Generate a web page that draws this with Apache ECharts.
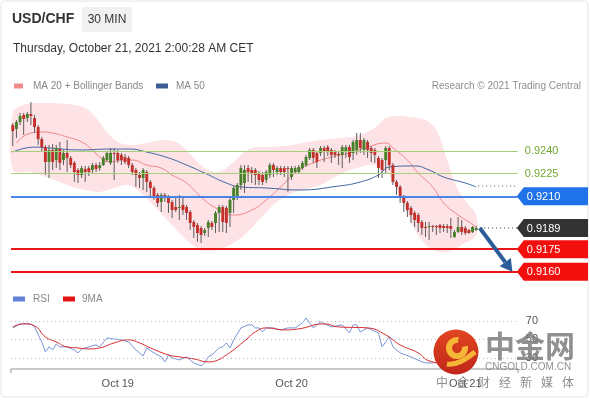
<!DOCTYPE html>
<html><head><meta charset="utf-8">
<script src="https://cdn.jsdelivr.net/npm/echarts/dist/echarts.min.js"></script>
<style>html,body{margin:0;padding:0;background:#fff}#c{width:590px;height:400px}</style>
</head><body><div id="c"></div>
<script>
// ---------- texts ----------
const symbolName = 'USD/CHF';
const timeframe = '30 MIN';
const stamp = 'Thursday, October 21, 2021 2:00:28 AM CET';
const credit = 'Research \u00a9 2021 Trading Central';
const dayLabels = ['Oct 19', 'Oct 20', 'Oct 21'];
const dayIndex = [29, 77, 125];
const SLOTS = 140;

// ---------- candles (30 min) ----------
const opens = [0.92572,0.92546,0.92592,0.92638,0.92618,0.92645,0.92618,0.92559,0.92479,0.92426,
0.92327,0.92407,0.92340,0.92413,0.92340,0.92387,0.92354,0.92321,0.92274,0.92241,
0.92281,0.92287,0.92274,0.92307,0.92287,0.92307,0.92340,0.92321,0.92387,0.92387,
0.92374,0.92360,0.92354,0.92307,0.92274,0.92241,0.92221,0.92261,0.92195,0.92155,
0.92109,0.92062,0.92109,0.92095,0.92062,0.92029,0.92023,0.92043,0.92029,0.91996,
0.91930,0.91910,0.91890,0.91857,0.91890,0.91923,0.91923,0.91990,0.92029,0.92023,
0.91990,0.92076,0.92095,0.92175,0.92188,0.92287,0.92274,0.92274,0.92254,0.92241,
0.92208,0.92241,0.92307,0.92261,0.92287,0.92287,0.92287,0.92228,0.92261,0.92261,
0.92287,0.92307,0.92354,0.92407,0.92387,0.92387,0.92420,0.92426,0.92407,0.92393,
0.92380,0.92374,0.92393,0.92426,0.92387,0.92407,0.92473,0.92407,0.92460,0.92420,
0.92407,0.92354,0.92340,0.92340,0.92420,0.92307,0.92195,0.92162,0.92095,0.92056,
0.92023,0.91990,0.91976,0.91930,0.91897,0.91897,0.91903,0.91903,0.91910,0.91903,
0.91903,0.91903,0.91831,0.91864,0.91897,0.91890,0.91877,0.91864,0.91877];
const closes = [0.92532,0.92592,0.92632,0.92612,0.92645,0.92632,0.92559,0.92479,0.92426,0.92327,
0.92407,0.92327,0.92420,0.92321,0.92387,0.92354,0.92307,0.92261,0.92241,0.92287,
0.92261,0.92261,0.92307,0.92281,0.92307,0.92354,0.92387,0.92387,0.92380,0.92340,
0.92340,0.92327,0.92307,0.92261,0.92241,0.92221,0.92274,0.92195,0.92155,0.92095,
0.92056,0.92109,0.92089,0.92056,0.92009,0.92009,0.92029,0.92009,0.91990,0.91923,
0.91897,0.91857,0.91844,0.91877,0.91930,0.91897,0.91990,0.92029,0.91930,0.91923,
0.92076,0.92155,0.92175,0.92287,0.92274,0.92261,0.92254,0.92241,0.92208,0.92195,
0.92261,0.92307,0.92274,0.92287,0.92261,0.92261,0.92281,0.92287,0.92287,0.92294,
0.92321,0.92360,0.92407,0.92354,0.92327,0.92420,0.92393,0.92393,0.92374,0.92374,
0.92374,0.92426,0.92426,0.92360,0.92460,0.92473,0.92420,0.92473,0.92407,0.92387,
0.92374,0.92287,0.92274,0.92420,0.92307,0.92195,0.92162,0.92095,0.92056,0.92009,
0.91976,0.91943,0.91923,0.91890,0.91890,0.91903,0.91897,0.91897,0.91890,0.91890,
0.91890,0.91884,0.91864,0.91897,0.91864,0.91857,0.91857,0.91897,0.91890];
const highs = [0.92585,0.92605,0.92652,0.92652,0.92658,0.92724,0.92638,0.92572,0.92493,0.92440,
0.92440,0.92446,0.92440,0.92460,0.92407,0.92473,0.92367,0.92334,0.92287,0.92301,
0.92301,0.92301,0.92321,0.92321,0.92327,0.92367,0.92400,0.92420,0.92420,0.92407,
0.92387,0.92380,0.92367,0.92321,0.92287,0.92261,0.92287,0.92274,0.92208,0.92168,
0.92122,0.92122,0.92122,0.92109,0.92076,0.92095,0.92109,0.92095,0.92043,0.92009,
0.91943,0.91923,0.91903,0.91890,0.91943,0.91937,0.92003,0.92043,0.92043,0.92036,
0.92089,0.92168,0.92188,0.92307,0.92307,0.92307,0.92294,0.92287,0.92268,0.92261,
0.92274,0.92321,0.92321,0.92301,0.92301,0.92301,0.92301,0.92301,0.92301,0.92307,
0.92334,0.92374,0.92420,0.92420,0.92400,0.92433,0.92433,0.92440,0.92420,0.92407,
0.92400,0.92440,0.92440,0.92440,0.92473,0.92519,0.92519,0.92486,0.92473,0.92433,
0.92420,0.92367,0.92354,0.92433,0.92433,0.92321,0.92208,0.92175,0.92109,0.92069,
0.92036,0.92003,0.91990,0.91943,0.91930,0.91930,0.91910,0.91910,0.91917,0.91917,
0.91917,0.91956,0.91877,0.91963,0.91943,0.91903,0.91884,0.91903,0.91903];
const lows = [0.92433,0.92486,0.92572,0.92506,0.92592,0.92572,0.92519,0.92440,0.92393,0.92241,
0.92221,0.92274,0.92287,0.92274,0.92307,0.92261,0.92287,0.92195,0.92188,0.92221,
0.92195,0.92234,0.92248,0.92261,0.92268,0.92301,0.92327,0.92307,0.92208,0.92321,
0.92307,0.92314,0.92287,0.92241,0.92162,0.92155,0.92142,0.92129,0.92089,0.92076,
0.92029,0.91996,0.92062,0.91990,0.91956,0.91996,0.91943,0.91976,0.91943,0.91877,
0.91824,0.91798,0.91791,0.91837,0.91831,0.91877,0.91857,0.91864,0.91864,0.91857,
0.91897,0.91990,0.92076,0.92142,0.92122,0.92195,0.92188,0.92175,0.92175,0.92175,
0.92188,0.92221,0.92228,0.92241,0.92241,0.92228,0.92129,0.92208,0.92248,0.92254,
0.92274,0.92294,0.92340,0.92321,0.92287,0.92367,0.92327,0.92367,0.92321,0.92354,
0.92307,0.92287,0.92354,0.92321,0.92340,0.92374,0.92387,0.92374,0.92354,0.92327,
0.92321,0.92221,0.92221,0.92254,0.92274,0.92175,0.92109,0.92056,0.91996,0.91963,
0.91923,0.91897,0.91864,0.91844,0.91831,0.91811,0.91864,0.91844,0.91857,0.91864,
0.91857,0.91824,0.91824,0.91857,0.91844,0.91844,0.91851,0.91857,0.91870];

// ---------- indicators (read at sample candles) ----------
const ma20 = [[1,0.92453],[5,0.92519],[8,0.92526],[11,0.92519],[15,0.92493],[19,0.92460],[22,0.92407],[24,0.92360],[27,0.92327],[30,0.92340],[33,0.92340],[37,0.92307],[41,0.92287],[44,0.92241],[48,0.92188],[52,0.92095],[56,0.92023],[61,0.91976],[66,0.92009],[70,0.92076],[74,0.92162],[79,0.92274],[83,0.92321],[88,0.92360],[93,0.92387],[98,0.92426],[103,0.92453],[105,0.92420],[109,0.92340],[112,0.92254],[116,0.92162],[119,0.92056],[123,0.91976],[126,0.91930],[128,0.91897]];
const ma50 = [[0,0.92393],[6,0.92426],[10,0.92420],[19,0.92407],[27,0.92413],[32,0.92413],[37,0.92393],[43,0.92354],[48,0.92307],[53,0.92254],[59,0.92188],[63,0.92162],[70,0.92155],[79,0.92142],[90,0.92168],[96,0.92195],[101,0.92241],[104,0.92294],[111,0.92301],[115,0.92274],[119,0.92228],[125,0.92188],[128,0.92162]];
const bbUpper = [[0,0.92652],[3,0.92705],[8,0.92718],[15,0.92711],[20,0.92685],[23,0.92618],[26,0.92526],[29,0.92460],[33,0.92440],[38,0.92460],[42,0.92473],[45,0.92460],[48,0.92407],[51,0.92327],[54,0.92274],[57,0.92261],[60,0.92307],[63,0.92374],[66,0.92420],[70,0.92426],[75,0.92433],[80,0.92453],[85,0.92473],[90,0.92486],[95,0.92499],[100,0.92552],[103,0.92618],[106,0.92632],[110,0.92625],[114,0.92605],[117,0.92539],[120,0.92340],[123,0.92142],[126,0.92043],[128,0.91976]];
const bbLower = [[0,0.92274],[5,0.92261],[10,0.92221],[15,0.92175],[20,0.92142],[24,0.92129],[28,0.92155],[32,0.92175],[36,0.92109],[40,0.92009],[44,0.91910],[48,0.91811],[52,0.91745],[56,0.91745],[60,0.91778],[64,0.91844],[68,0.91943],[72,0.92043],[76,0.92109],[80,0.92142],[85,0.92175],[90,0.92241],[95,0.92287],[100,0.92307],[104,0.92241],[108,0.92043],[112,0.91844],[116,0.91745],[120,0.91731],[124,0.91778],[128,0.91844]];

// ---------- levels ----------
const levelsGreen = [0.9240, 0.9225];
const levelBlue = 0.9210;
const levelsRed = [0.9175, 0.9160];
const lastPrice = 0.9189;
const ma50Last = 0.92168;
const arrowFrom = [129, 0.9189];
const arrowTo = [138, 0.9160];

// ---------- RSI ----------
const rsi = [[0,62.4],[2,66.8],[5,66.8],[6,63.5],[8,47.3],[9,36.5],[10,41.9],[11,38.6],[12,45.1],[13,41.9],[15,41.9],[17,38.6],[18,35.4],[19,39.7],[21,41.9],[23,44.1],[24,41.9],[26,51.6],[28,50.5],[30,49.5],[32,47.3],[34,38.6],[35,35.4],[36,32.2],[37,40.8],[39,35.4],[41,31.1],[42,25.7],[43,33.2],[44,30.0],[46,27.8],[48,31.1],[49,27.8],[50,24.6],[52,21.4],[53,24.6],[54,31.1],[55,33.2],[57,40.8],[58,41.9],[59,46.2],[60,40.8],[61,49.5],[63,62.4],[65,65.7],[66,65.7],[67,62.4],[68,62.4],[69,58.1],[70,62.4],[72,62.4],[74,60.3],[76,62.4],[78,62.4],[80,67.8],[81,73.2],[83,62.4],[85,68.9],[86,66.8],[88,63.5],[91,65.7],[93,57.0],[94,65.7],[95,65.7],[96,58.1],[98,62.4],[101,57.0],[102,41.9],[104,52.7],[105,41.9],[107,35.4],[110,31.1],[113,25.7],[114,24.6],[116,24.6],[119,25.7],[122,27.8],[125,28.9],[128,32.2]];
const rsiMa = [[0,63.5],[3,66.8],[6,64.6],[9,52.7],[12,47.3],[15,41.9],[18,40.8],[21,39.7],[24,40.8],[28,46.2],[32,49.5],[35,46.2],[38,40.8],[43,33.2],[46,31.1],[50,28.9],[54,25.7],[56,26.8],[59,33.2],[62,41.9],[65,51.6],[67,58.1],[70,62.4],[75,60.3],[79,61.4],[86,66.8],[90,63.5],[98,62.4],[103,54.9],[107,44.1],[112,35.4],[115,26.8],[119,24.6],[124,25.7],[128,27.8]];
const rsiLevels = [70, 50, 30];

const FONT = '"Liberation Sans", Arial, Helvetica, sans-serif';
const CJK = '"Noto Sans CJK SC", sans-serif';
const chart = echarts.init(document.getElementById('c'), null, {renderer: 'canvas'});
const candleData = opens.map((o, i) => [i, o, closes[i], lows[i], highs[i]]);
const cats = Array.from({length: SLOTS}, (_, i) => String(i));

const levelLines = [];
levelsGreen.forEach(v => levelLines.push({yAxis: v, lineStyle: {color: '#a6cf7c', width: 1, type: 'solid'},
  label: {show: true, position: 'end', distance: 7, color: '#70a830', fontSize: 11, fontFamily: FONT, formatter: v.toFixed(4)}}));
levelLines.push({yAxis: levelBlue, lineStyle: {color: '#4a85e6', width: 2, type: 'solid'}, label: {show: false}});
levelsRed.forEach(v => levelLines.push({yAxis: v, lineStyle: {color: '#e8161c', width: 2, type: 'solid'}, label: {show: false}}));

const option = {
  animation: false,
  textStyle: {fontFamily: FONT},
  grid: [
    {left: 11, width: 506.8, top: 98.15, height: 181.2},
    {left: 11, width: 506.8, top: 311.65, height: 57.35}
  ],
  xAxis: [
    {type: 'value', gridIndex: 0, min: -0.5, max: SLOTS - 0.5, show: false},
    {type: 'category', gridIndex: 1, data: cats, boundaryGap: true,
      axisLine: {lineStyle: {color: '#b8b8b8', width: 1.5}},
      axisTick: {show: true, interval: (i) => i === 0, length: 4, lineStyle: {color: '#b8b8b8', width: 1.5}},
      axisLabel: {interval: 0, color: '#555', fontSize: 11, margin: 9, fontFamily: FONT,
        formatter: (v, i) => { const k = dayIndex.indexOf(i); return k >= 0 ? dayLabels[k] : ''; }},
      splitLine: {show: false}},
    {type: 'value', gridIndex: 1, min: -0.5, max: SLOTS - 0.5, show: false}
  ],
  yAxis: [
    {type: 'value', gridIndex: 0, min: 0.9155, max: 0.9275, show: false, splitLine: {show: false}},
    {type: 'value', gridIndex: 1, min: 18, max: 80, show: false, splitLine: {show: false}}
  ],
  series: [
    {type: 'custom', name: 'bb', xAxisIndex: 0, yAxisIndex: 0, z: 1, silent: true, clip: false,
      data: [[0, 0.92]],
      renderItem: (params, api) => {
        const pts = bbUpper.map(p => api.coord(p)).concat(bbLower.slice().reverse().map(p => api.coord(p)));
        return {type: 'polygon', shape: {points: pts, smooth: 0.35}, style: {fill: '#fde3e5'}};
      }},
    {type: 'line', name: 'MA 20', xAxisIndex: 0, yAxisIndex: 0, z: 2, data: ma20, smooth: true, showSymbol: false,
      lineStyle: {color: '#ee8585', width: 1}, silent: true},
    {type: 'line', name: 'MA 50', xAxisIndex: 0, yAxisIndex: 0, z: 2, data: ma50, smooth: true, showSymbol: false,
      lineStyle: {color: '#3f65a3', width: 1}, silent: true,
      markLine: {symbol: ['none', 'none'], silent: true, precision: 5, z: 6, data: levelLines}},
    {type: 'custom', name: 'candles', xAxisIndex: 0, yAxisIndex: 0, z: 5, data: candleData,
      encode: {x: 0, y: [1, 2, 3, 4]},
      renderItem: (params, api) => {
        const x = api.value(0), o = api.value(1), c = api.value(2), l = api.value(3), h = api.value(4);
        const pH = api.coord([x, h]), pL = api.coord([x, l]), pO = api.coord([x, o]), pC = api.coord([x, c]);
        const w = api.size([1, 0])[0] * 0.8;
        const top = Math.min(pO[1], pC[1]);
        const ht = Math.max(Math.abs(pO[1] - pC[1]), 1);
        const col = c > o ? '#478028' : (c < o ? '#c3302c' : '#555');
        return {type: 'group', children: [
          {type: 'line', shape: {x1: pH[0], y1: pH[1], x2: pL[0], y2: pL[1]}, style: {stroke: '#5c5c5c', lineWidth: 1}},
          {type: 'rect', shape: {x: pO[0] - w / 2, y: top, width: w, height: ht}, style: {fill: col}}
        ]};
      }},
    {type: 'line', name: 'RSI', xAxisIndex: 2, yAxisIndex: 1, data: rsi, showSymbol: false, smooth: false,
      lineStyle: {color: '#7794d8', width: 1}, silent: true,
      markLine: {symbol: ['none', 'none'], silent: true, precision: 1,
        lineStyle: {type: [1, 3], color: '#bdbdbd', width: 1},
        label: {position: 'end', distance: 8, color: '#555', fontSize: 11, fontFamily: FONT, formatter: p => String(p.value)},
        data: rsiLevels.map(v => ({yAxis: v}))}},
    {type: 'line', name: '9MA', xAxisIndex: 2, yAxisIndex: 1, data: rsiMa, showSymbol: false, smooth: true,
      lineStyle: {color: '#d8282d', width: 1}, silent: true}
  ]
};
chart.setOption(option);

// ---------- overlays positioned through the chart's scales ----------
const px = (x, y) => chart.convertToPixel({gridIndex: 0}, [x, y]);
const xEdge = px(SLOTS - 0.5, lastPrice)[0];
const G = [];
const txt = (x, y, text, size, color, extra) => Object.assign({type: 'text', x, y, z: 60,
  style: Object.assign({text, fill: color, fontSize: size, fontFamily: FONT, textAlign: 'left', textVerticalAlign: 'middle', align: 'left', verticalAlign: 'middle'}, extra || {})});

// card border
G.push({type: 'rect', shape: {x: 1, y: 1, width: 587, height: 396, r: 4}, style: {fill: 'none', stroke: '#e4e4e4', lineWidth: 1}, z: 0});
// header
G.push(txt(12, 19, symbolName, 14, '#333', {fontWeight: 'bold'}));
G.push({type: 'rect', shape: {x: 82, y: 7, width: 50, height: 25, r: 2}, style: {fill: '#f1f1f1'}, z: 55});
G.push(txt(107, 19.5, timeframe, 12, '#333', {textAlign: 'center', align: 'center'}));
G.push(txt(13, 49, stamp, 12, '#333'));
// price legend
G.push({type: 'rect', shape: {x: 14, y: 83.5, width: 9, height: 5}, style: {fill: '#f08c8c'}, z: 60});
G.push(txt(33, 86, 'MA 20 + Bollinger Bands', 10, '#888'));
G.push({type: 'rect', shape: {x: 156, y: 83.5, width: 12, height: 5}, style: {fill: '#3d5e93'}, z: 60});
G.push(txt(176, 86, 'MA 50', 10, '#888'));
G.push(txt(581, 86, credit, 10, '#8f8f8f', {textAlign: 'right', align: 'right'}));
// RSI legend
G.push({type: 'rect', shape: {x: 13, y: 296.5, width: 12, height: 5}, style: {fill: '#6282d6'}, z: 60});
G.push(txt(33, 299, 'RSI', 10, '#888'));
G.push({type: 'rect', shape: {x: 63, y: 296.5, width: 12, height: 5}, style: {fill: '#e01414'}, z: 60});
G.push(txt(82, 299, '9MA', 10, '#888'));

// dotted extensions
const pLast = px(128, lastPrice);
G.push({type: 'line', shape: {x1: pLast[0] + 4, y1: pLast[1], x2: xEdge, y2: pLast[1]}, style: {stroke: '#333', lineWidth: 1, lineDash: [1, 3]}, z: 40});
const pMa = px(128, ma50Last);
G.push({type: 'line', shape: {x1: pMa[0] + 2, y1: pMa[1], x2: xEdge, y2: pMa[1]}, style: {stroke: '#555', lineWidth: 1, lineDash: [1, 3]}, z: 40});

// price tags
function tag(v, color) {
  const y = px(0, v)[1];
  G.push({type: 'polygon', shape: {points: [[xEdge - 1, y], [xEdge + 6, y - 9], [588, y - 9], [588, y + 9], [xEdge + 6, y + 9]]}, style: {fill: color}, z: 50});
  G.push(txt(xEdge + 9, y + 0.5, v.toFixed(4), 11, '#fff'));
}
tag(levelBlue, '#1f72e8');
tag(lastPrice, '#333333');
levelsRed.forEach(v => tag(v, '#f40f0f'));

// forecast arrow
const a0 = px(arrowFrom[0], arrowFrom[1]), a1 = px(arrowTo[0], arrowTo[1]);
const dx = a1[0] - a0[0], dy = a1[1] - a0[1], len = Math.hypot(dx, dy);
const ux = dx / len, uy = dy / len;
const bx = a1[0] - ux * 12, by = a1[1] - uy * 12;
G.push({type: 'line', shape: {x1: a0[0], y1: a0[1], x2: bx, y2: by}, style: {stroke: '#2c5b99', lineWidth: 4}, z: 45});
G.push({type: 'polygon', shape: {points: [[a1[0], a1[1]], [bx - uy * 7, by + ux * 7], [bx + uy * 7, by - ux * 7]]}, style: {fill: '#2c5b99'}, z: 45});

// watermark
G.push({type: 'circle', shape: {cx: 456, cy: 352, r: 22.5}, style: {fill: new echarts.graphic.LinearGradient(0, 0, 0, 1, [{offset: 0, color: '#e0461f'}, {offset: 1, color: '#c0261a'}])}, z: 80});
G.push({type: 'arc', shape: {cx: 457, cy: 348, r: 8, startAngle: -0.2, endAngle: Math.PI * 1.55}, style: {stroke: '#f6b637', lineWidth: 6, fill: 'none'}, z: 81});
G.push({type: 'bezierCurve', shape: {x1: 447, y1: 364, cpx1: 458, cpy1: 366, x2: 475, y2: 352}, style: {stroke: '#f6b637', lineWidth: 5, fill: 'none'}, z: 81});
G.push(txt(485, 346, '\u4e2d\u91d1\u7f51', 30, 'rgba(125,125,125,0.85)', {fontFamily: CJK, fontWeight: 'bold'}));
G.push(txt(485, 367, 'CNGOLD.COM.CN', 10, 'rgba(125,125,125,0.85)'));
['\u4e2d', '\u91d1', '\u8d22', '\u7ecf', '\u65b0', '\u5a92', '\u4f53'].forEach((ch, k) => {
  G.push(txt(442 + k * 21, 382, ch, 12, 'rgba(120,120,120,0.85)', {fontFamily: CJK, textAlign: 'center', align: 'center'}));
});

chart.setOption({graphic: G});
</script>
</body></html>
